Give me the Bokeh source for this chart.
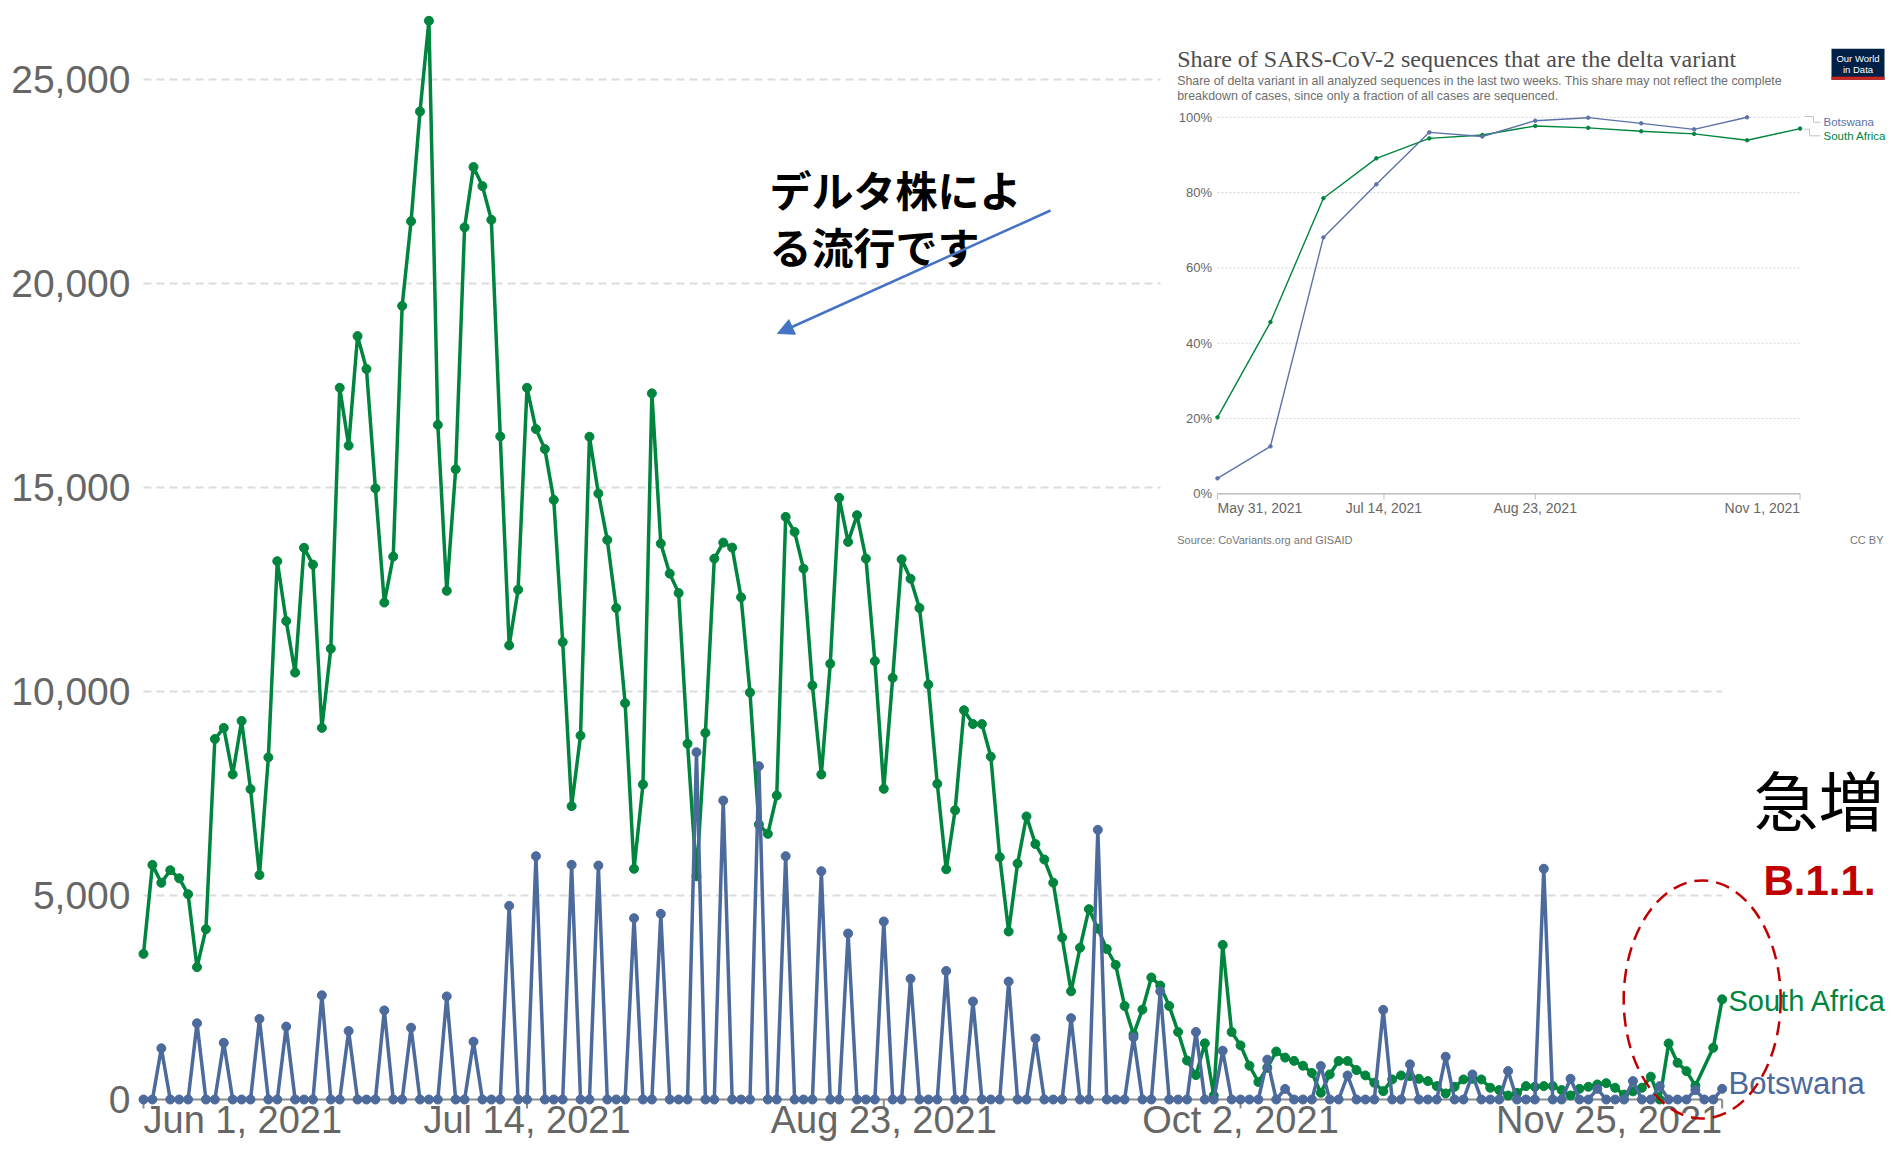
import pandas as pd
from bokeh.plotting import figure
from bokeh.models import (Range1d, Arrow, NormalHead, LinearAxis, FixedTicker,
                          NumeralTickFormatter)
from bokeh.core.properties import value
from bokeh.embed import file_html
from bokeh.resources import INLINE

# ---------------- data ----------------
dates = pd.date_range("2021-06-01", "2021-11-25", freq="D")

south_africa = [
    3569, 5750, 5311, 5620, 5422, 5032, 3243, 4174, 8836, 9108,
    7968, 9279, 7608, 5502, 8385, 13194, 11726, 10463, 13522, 13110,
    9108, 11049, 17444, 16027, 18711, 17904, 14978, 12179, 13306, 19451,
    21525, 24216, 26439, 16535, 12468, 15446, 21375, 22855, 22387, 21561,
    16252, 11130, 12495, 17444, 16432, 15941, 14697, 11211, 7190, 8920,
    16244, 14853, 13715, 12046, 9714, 5654, 7721, 17307, 13625, 12889,
    12414, 8720, 5470, 8985, 13257, 13650, 13527, 12308, 9975, 6740,
    6511, 7451, 14280, 13911, 13011, 10147, 7966, 10679, 14746, 13666,
    14321, 13257, 10745, 7614, 10335, 13240, 12764, 12047, 10169, 7737,
    5643, 7089, 9541, 9202, 9202, 8405, 5942, 4118, 5783, 6939,
    6261, 5882, 5314, 3968, 2652, 3719, 4666, 4187, 3689, 3300,
    2293, 1595, 2203, 2991, 2792, 2293, 1655, 957, 598, 1376,
    100, 3789, 1655, 1326, 828, 429, 778, 1176, 1027, 947,
    828, 650, 164, 615, 943, 943, 721, 590, 410, 205,
    492, 590, 574, 508, 451, 328, 148, 311, 492, 508,
    492, 287, 230, 98, 164, 328, 311, 328, 328, 230,
    98, 262, 311, 369, 400, 287, 120, 200, 287, 560,
    0, 1375, 900, 695, 335, None, 1268, 2455,
]

botswana = [
    0, 0, 1255, 0, 0, 0, 1868, 0, 0, 1390,
    0, 0, 0, 1976, 0, 0, 1787, 0, 0, 0,
    2554, 0, 0, 1679, 0, 0, 0, 2184, 0, 0,
    1760, 0, 0, 0, 2527, 0, 0, 1417, 0, 0,
    0, 4747, 0, 0, 5964, 0, 0, 0, 5752, 0,
    0, 5735, 0, 0, 0, 4444, 0, 0, 4551, 0,
    0, 0, 8513, 0, 0, 7328, 0, 0, 0, 8170,
    0, 0, 5964, 0, 0, 0, 5596, 0, 0, 4069,
    0, 0, 0, 4363, 0, 0, 2960, 0, 0, 0,
    3151, 0, 0, 2403, 0, 0, 0, 2891, 0, 0,
    1496, 0, 0, 0, 1994, 0, 0, 6610, 0, 0,
    0, 1525, 0, 0, 2652, 0, 0, 0, 1655, 0,
    0, 1196, 0, 0, 0, 0, 977, 0, 259, 0,
    0, 0, 820, 0, 0, 590, 0, 0, 0, 2197,
    0, 0, 861, 0, 0, 0, 1049, 0, 0, 615,
    0, 0, 0, 697, 0, 0, 0, 5656, 0, 0,
    508, 0, 0, 262, 0, 0, 0, 451, 0, 0,
    328, 0, 0, 0, 230, 0, 0, 262,
]

y_ticks = [0, 5000, 10000, 15000, 20000, 25000]
x_tick_dates = ["2021-06-01", "2021-07-14", "2021-08-23", "2021-10-02", "2021-11-25"]
x_tick_labels = ["Jun 1, 2021", "Jul 14, 2021", "Aug 23, 2021", "Oct 2, 2021", "Nov 25, 2021"]
x_tick_align = ["left", "center", "center", "center", "right"]

# inset: share of delta variant
inset_dates = ["2021-05-31", "2021-06-14", "2021-06-28", "2021-07-12", "2021-07-26",
               "2021-08-09", "2021-08-23", "2021-09-06", "2021-09-20", "2021-10-04",
               "2021-10-18", "2021-11-01"]
sa_delta = [20.3, 45.6, 78.5, 89.1, 94.4, 95.3, 97.7, 97.2, 96.3, 95.6, 93.9, 97.0]
bw_delta = [4.1, 12.6, 68.1, 82.2, 96.0, 94.9, 99.1, 99.9, 98.4, 96.8, 100.0, None]
inset_y_ticks = [0, 20, 40, 60, 80, 100]
inset_y_labels = ["0%", "20%", "40%", "60%", "80%", "100%"]
inset_x_tick_dates = ["2021-05-31", "2021-07-14", "2021-08-23", "2021-11-01"]
inset_x_labels = ["May 31, 2021", "Jul 14, 2021", "Aug 23, 2021", "Nov 1, 2021"]
inset_x_align = ["left", "center", "center", "right"]

GREEN = "#00853e"
BLUE = "#4c6a9c"
GREY_TXT = "#666666"

# ---------------- geometry helpers (canvas px -> data) ----------------
DAY_MS = 86400000.0


def ms(d):
    return pd.Timestamp(d).value / 1e6


W, H = 1886, 1142
FRAME_L = 135
MX0, MDAY = 143.0, 8.919      # px of Jun 1, px per day
MY0, MCASE = 1099.0, 0.0408   # px of 0 cases, px per case
T0 = ms("2021-06-01")


def mx(px):
    return T0 + (px - MX0) / MDAY * DAY_MS


def my(py):
    return (MY0 - py) / MCASE


IX0, IDAY = 1217.0, 3.783
IY0, IPCT = 493.3, 3.765
TI0 = ms("2021-05-31")


def ix(px):
    return TI0 + (px - IX0) / IDAY * DAY_MS


def iy(py):
    return (IY0 - py) / IPCT


p = figure(width=W, height=H,
           x_range=Range1d(mx(FRAME_L), mx(W)),
           y_range=Range1d(my(H), my(0)),
           x_axis_location=None, y_axis_location=None,
           min_border_left=FRAME_L, min_border_right=0,
           min_border_top=0, min_border_bottom=0,
           output_backend="svg", toolbar_location=None)
p.outline_line_color = None
p.grid.visible = False
p.background_fill_color = "white"
p.extra_x_ranges = {"ix": Range1d(ix(FRAME_L), ix(W))}
p.extra_y_ranges = {"iy": Range1d(iy(H), iy(0))}

yaxis = LinearAxis(ticker=FixedTicker(ticks=y_ticks),
                   formatter=NumeralTickFormatter(format="0,0"),
                   axis_line_color=None, major_tick_line_color=None,
                   minor_tick_line_color=None, major_tick_out=0, major_tick_in=0,
                   major_label_standoff=5, major_label_text_font_size="39px",
                   major_label_text_color=GREY_TXT,
                   major_label_text_font="Liberation Sans")
p.add_layout(yaxis, "left")

x_main = [ms(d) for d in dates]
x_first, x_last = x_main[0], x_main[-1]

# gridlines
g = y_ticks[1:]
p.segment(x0=[x_first] * len(g), x1=[x_last] * len(g), y0=g, y1=g,
          line_color="#dcdcdc", line_width=2, line_dash="8 5")
# zero line & ticks
p.segment(x0=[x_first], x1=[x_last], y0=[0], y1=[0], line_color="#8c8c8c", line_width=2)
tx = [ms(d) for d in x_tick_dates]
p.segment(x0=tx, x1=tx, y0=[0] * len(tx), y1=[my(1108)] * len(tx),
          line_color="#8c8c8c", line_width=2)
for d, lab, al in zip(tx, x_tick_labels, x_tick_align):
    p.text(x=[d], y=[my(1119)], text=[lab], text_align=al, text_baseline="middle",
           text_font=value("Liberation Sans"), text_font_size="38px", text_color=GREY_TXT)

# ---------------- inset ----------------
p.quad(left=[mx(1160)], right=[mx(1910)], top=[my(20)], bottom=[my(562)],
       fill_color="white", line_color=None)
ig = inset_y_ticks[1:]
ix_first, ix_last = ms(inset_x_tick_dates[0]), ms(inset_x_tick_dates[-1])
p.segment(x0=[ix_first] * len(ig), x1=[ix_last] * len(ig), y0=ig, y1=ig,
          line_color="#d6d6d6", line_width=1, line_dash="2 2",
          x_range_name="ix", y_range_name="iy")
p.segment(x0=[ix_first], x1=[ix_last], y0=[0], y1=[0], line_color="#bdbdbd",
          line_width=1.5, x_range_name="ix", y_range_name="iy")
itx = [ms(d) for d in inset_x_tick_dates]
p.segment(x0=itx, x1=itx, y0=[0] * 4, y1=[iy(499)] * 4, line_color="#bdbdbd",
          line_width=1, x_range_name="ix", y_range_name="iy")
for t, lab in zip(inset_y_ticks, inset_y_labels):
    p.text(x=[ix(1211.5)], y=[t], text=[lab], text_align="right", text_baseline="middle",
           text_font=value("Liberation Sans"), text_font_size="13px", text_color=GREY_TXT,
           x_range_name="ix", y_range_name="iy")
for d, lab, al in zip(itx, inset_x_labels, inset_x_align):
    p.text(x=[d], y=[iy(507)], text=[lab], text_align=al, text_baseline="middle",
           text_font=value("Liberation Sans"), text_font_size="14px", text_color=GREY_TXT,
           x_range_name="ix", y_range_name="iy")

ixd = [ms(d) for d in inset_dates]
bw_x = [x for x, v in zip(ixd, bw_delta) if v is not None]
bw_y = [v for v in bw_delta if v is not None]
p.line(ixd, sa_delta, line_color=GREEN, line_width=1.4, x_range_name="ix", y_range_name="iy")
p.scatter(ixd, sa_delta, size=3.5, color=GREEN, x_range_name="ix", y_range_name="iy")
p.line(bw_x, bw_y, line_color="#5d72a8", line_width=1.4, x_range_name="ix", y_range_name="iy")
p.scatter(bw_x, bw_y, size=3.5, color="#5d72a8", x_range_name="ix", y_range_name="iy")

# inset legend connectors
p.multi_line(xs=[[mx(1804), mx(1813), mx(1813), mx(1820)],
                 [mx(1804), mx(1809), mx(1809), mx(1820)]],
             ys=[[my(116), my(116), my(121.7), my(121.7)],
                 [my(128.7), my(128.7), my(135.3), my(135.3)]],
             line_color="#c4c4c4", line_width=1)
p.text(x=[mx(1823)], y=[my(121.7)], text=["Botswana"], text_baseline="middle",
       text_font=value("Liberation Sans"), text_font_size="11.5px", text_color="#5d72a8")
p.text(x=[mx(1823)], y=[my(135.3)], text=["South Africa"], text_baseline="middle",
       text_font=value("Liberation Sans"), text_font_size="11.5px", text_color=GREEN)

p.text(x=[mx(1176.7)], y=[my(58)],
       text=["Share of SARS-CoV-2 sequences that are the delta variant"],
       text_baseline="middle", text_font=value("Liberation Serif"),
       text_font_size="24px", text_color="#4d4d4d")
p.text(x=[mx(1176.7)] * 2, y=[my(80.5), my(95.3)],
       text=["Share of delta variant in all analyzed sequences in the last two weeks. This share may not reflect the complete",
             "breakdown of cases, since only a fraction of all cases are sequenced."],
       text_baseline="middle", text_font=value("Liberation Sans"),
       text_font_size="12.4px", text_color="#6e6e6e")
p.text(x=[mx(1176.7)], y=[my(539.5)], text=["Source: CoVariants.org and GISAID"],
       text_baseline="middle", text_font=value("Liberation Sans"),
       text_font_size="11px", text_color="#777777")
p.text(x=[mx(1883)], y=[my(539.5)], text=["CC BY"], text_align="right",
       text_baseline="middle", text_font=value("Liberation Sans"),
       text_font_size="11px", text_color="#777777")
# OWID logo
p.quad(left=[mx(1831)], right=[mx(1884)], top=[my(48.3)], bottom=[my(79.3)],
       fill_color="#002147", line_color=None)
p.quad(left=[mx(1831)], right=[mx(1884)], top=[my(76.3)], bottom=[my(79.3)],
       fill_color="#ce261e", line_color=None)
p.text(x=[mx(1857.5)] * 2, y=[my(57.5), my(68.5)], text=["Our World", "in Data"],
       text_align="center", text_baseline="middle", text_font=value("Liberation Sans"),
       text_font_size="9.5px", text_color="white")

# ---------------- main series ----------------
sa_x = [x for x, v in zip(x_main, south_africa) if v is not None]
sa_y = [v for v in south_africa if v is not None]
p.line(sa_x, sa_y, line_color=GREEN, line_width=3.5)
p.scatter(sa_x, sa_y, size=9, color=GREEN)
p.line(x_main, botswana, line_color=BLUE, line_width=3.5)
p.scatter(x_main, botswana, size=9, color=BLUE)

p.text(x=[mx(1728)], y=[my(1000)], text=["South Africa"], text_baseline="middle",
       text_font=value("Liberation Sans"), text_font_size="29px", text_color=GREEN)
p.text(x=[mx(1728)], y=[my(1083)], text=["Botswana"], text_baseline="middle",
       text_font=value("Liberation Sans"), text_font_size="31px", text_color=BLUE)

# ---------------- annotations ----------------
p.text(x=[mx(769)] * 2, y=[my(188), my(245)], text=["デルタ株によ", "る流行です"],
       text_baseline="middle", text_font=value("Noto Sans CJK JP"),
       text_font_style="bold", text_font_size="42px", text_color="black")
p.add_layout(Arrow(x_start=mx(1050), y_start=my(210), x_end=mx(777), y_end=my(333),
                   line_color="#4472c4", line_width=2.5,
                   end=NormalHead(size=16, fill_color="#4472c4", line_color="#4472c4")))

p.ellipse(x=[mx(1701.7)], y=[my(999)], width=157 / MDAY * DAY_MS, height=238 / MCASE,
          fill_color=None, line_color="#c00000", line_width=2.5, line_dash="14 8")

p.text(x=[mx(1753)], y=[my(797)], text=["急増"], text_baseline="middle",
       text_font=value("Noto Sans CJK JP"), text_font_size="65px", text_color="black")
p.text(x=[mx(1763)], y=[my(880)], text=["B.1.1."], text_baseline="middle",
       text_font=value("Liberation Sans"), text_font_style="bold",
       text_font_size="42px", text_color="#c00000")

open("out.html", "w").write(file_html(p, INLINE))
